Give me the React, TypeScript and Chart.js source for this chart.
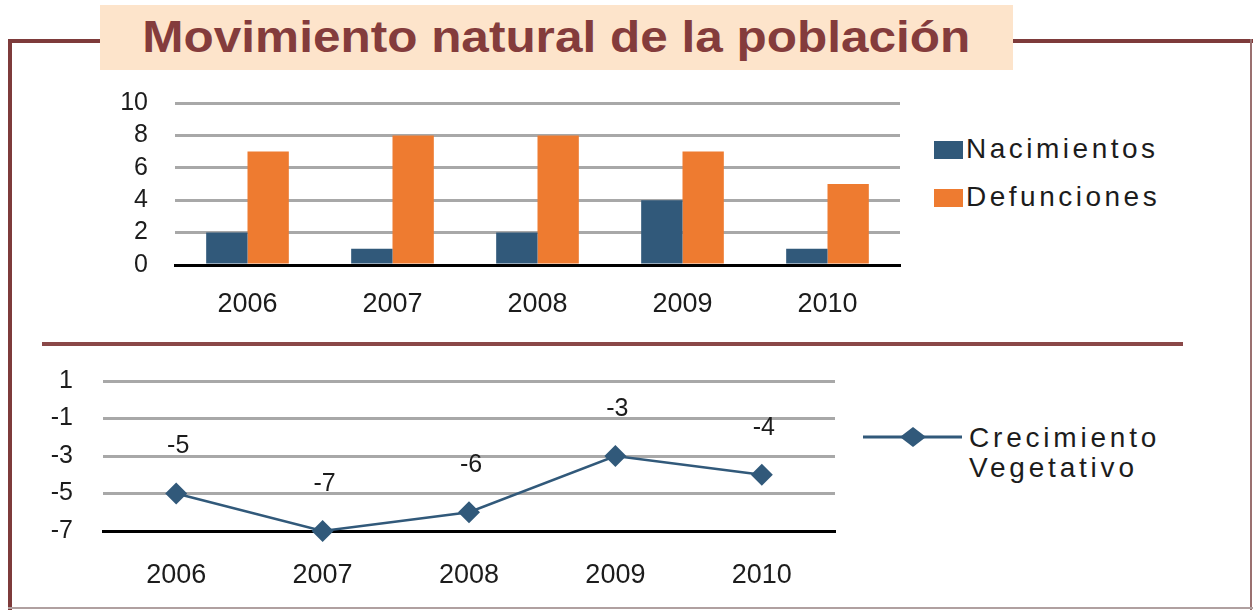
import React, { useEffect, useRef } from "react";
import { Chart, registerables } from "chart.js";

Chart.register(...registerables);

const years = ["2006", "2007", "2008", "2009", "2010"];
const nacimientos = [2, 1, 2, 4, 1];
const defunciones = [7, 8, 8, 7, 5];
const crecimiento = [-5, -7, -6, -3, -4];
const barTicks = { min: 0, max: 10, step: 2 };
const lineTicks = { min: -7, max: 1, step: 2 };

const FONT = "'Liberation Sans', Arial, sans-serif";
const BLUE = "#31597a";
const ORANGE = "#ee7b30";
const FRAME = "#7e3b3b";
const GRID = "#a8a8a8";
const TEXT = "#1c1c1c";

const pointLabels = {
  id: "pointLabels",
  afterDatasetsDraw(chart: any) {
    if (chart.config.type !== "line") return;
    const ctx = chart.ctx;
    const meta = chart.getDatasetMeta(0);
    ctx.save();
    ctx.font = `25px ${FONT}`;
    ctx.fillStyle = TEXT;
    ctx.textAlign = "center";
    ctx.textBaseline = "middle";
    meta.data.forEach((pt: any, i: number) => {
      ctx.fillText(String(chart.data.datasets[0].data[i]), pt.x + 2, pt.y - 47);
    });
    ctx.restore();
  },
};

function BarChart() {
  const ref = useRef<HTMLCanvasElement>(null);
  useEffect(() => {
    const chart = new Chart(ref.current!, {
      type: "bar",
      data: {
        labels: years,
        datasets: [
          { label: "Nacimientos", data: nacimientos, backgroundColor: BLUE },
          { label: "Defunciones", data: defunciones, backgroundColor: ORANGE },
        ],
      },
      options: {
        responsive: false,
        animation: false,
        layout: { padding: { top: 15, right: 20, left: 0, bottom: 0 } },
        plugins: { legend: { display: false }, tooltip: { enabled: false } },
        datasets: { bar: { categoryPercentage: 0.57, barPercentage: 1 } },
        scales: {
          x: {
            afterFit: (s: any) => { s.height = 57; s.paddingLeft = 0; s.paddingRight = 0; },
            grid: { display: false, drawTicks: false },
            border: { display: true, color: "#000", width: 3 },
            ticks: { autoSkip: false, maxRotation: 0, color: TEXT, font: { family: FONT, size: 27 }, padding: 23 },
          },
          y: {
            min: barTicks.min,
            max: barTicks.max,
            afterFit: (s: any) => { s.width = 75; s.paddingTop = 0; s.paddingBottom = 0; },
            grid: { color: GRID, lineWidth: 3, drawTicks: false },
            border: { display: false },
            ticks: { autoSkip: false, stepSize: barTicks.step, color: TEXT, font: { family: FONT, size: 25 }, padding: 27 },
          },
        },
      },
    });
    return () => chart.destroy();
  }, []);
  return (
    <canvas
      ref={ref}
      width={820}
      height={234}
      style={{ position: "absolute", left: 100, top: 88, width: 820, height: 234 }}
    />
  );
}

function LineChart() {
  const ref = useRef<HTMLCanvasElement>(null);
  useEffect(() => {
    const chart = new Chart(ref.current!, {
      type: "line",
      data: {
        labels: years,
        datasets: [
          {
            label: "Crecimiento Vegetativo",
            data: crecimiento,
            borderColor: BLUE,
            backgroundColor: BLUE,
            borderWidth: 2.5,
            pointStyle: "rectRot",
            pointRadius: 11,
            pointBorderWidth: 0,
            tension: 0,
            clip: false as any,
          },
        ],
      },
      options: {
        responsive: false,
        animation: false,
        layout: { padding: { top: 21, right: 5, left: 0, bottom: 0 } },
        plugins: { legend: { display: false }, tooltip: { enabled: false } },
        scales: {
          x: {
            offset: true,
            afterFit: (s: any) => { s.height = 61; s.paddingLeft = 0; s.paddingRight = 0; },
            grid: { display: false, drawTicks: false },
            border: { display: true, color: "#000", width: 3 },
            ticks: { autoSkip: false, maxRotation: 0, color: TEXT, font: { family: FONT, size: 27 }, padding: 28 },
          },
          y: {
            min: lineTicks.min,
            max: lineTicks.max,
            afterFit: (s: any) => { s.width = 83; s.paddingTop = 0; s.paddingBottom = 0; },
            grid: { color: GRID, lineWidth: 3, drawTicks: false },
            border: { display: false },
            ticks: { autoSkip: false, stepSize: lineTicks.step, color: TEXT, font: { family: FONT, size: 25 }, padding: 30 },
          },
        },
      },
      plugins: [pointLabels],
    });
    return () => chart.destroy();
  }, []);
  return (
    <canvas
      ref={ref}
      width={826}
      height={232}
      style={{ position: "absolute", left: 20, top: 360, width: 826, height: 232 }}
    />
  );
}

export default function App() {
  const legendText: React.CSSProperties = {
    position: "absolute",
    fontFamily: FONT,
    fontSize: 28,
    color: TEXT,
    letterSpacing: 3.5,
    whiteSpace: "nowrap",
    lineHeight: "30px",
  };
  return (
    <div
      style={{
        position: "fixed",
        left: 0,
        top: 0,
        width: 1253,
        height: 610,
        background: "#fff",
        overflow: "hidden",
      }}
    >
      {/* frame */}
      <div style={{ position: "absolute", left: 8, top: 39, width: 4, height: 571, background: FRAME }} />
      <div style={{ position: "absolute", left: 8, top: 39, width: 95, height: 4, background: FRAME }} />
      <div style={{ position: "absolute", left: 1010, top: 39, width: 243, height: 4, background: FRAME }} />
      <div style={{ position: "absolute", left: 1250, top: 39, width: 2, height: 571, background: "#9a7070" }} />
      <div style={{ position: "absolute", left: 8, top: 607, width: 1245, height: 2, background: "#b0a0a0" }} />
      {/* title */}
      <div
        style={{
          position: "absolute",
          left: 100,
          top: 5,
          width: 913,
          height: 65,
          background: "#fde4cb",
        }}
      />
      <div
        style={{
          position: "absolute",
          left: 100,
          top: 5,
          width: 913,
          height: 65,
          display: "flex",
          alignItems: "center",
          justifyContent: "center",
          fontFamily: FONT,
          fontWeight: "bold",
          fontSize: 45,
          color: "#843c3c",
          whiteSpace: "nowrap",
        }}
      >
        <span style={{ display: "inline-block", transform: "scaleX(1.1)", marginTop: -2 }}>
          Movimiento natural de la población
        </span>
      </div>
      {/* separator */}
      <div style={{ position: "absolute", left: 42, top: 342, width: 1141, height: 4, background: "#8a4848" }} />

      <BarChart />
      <LineChart />

      {/* bar legend */}
      <div style={{ position: "absolute", left: 934, top: 141, width: 29, height: 18, background: BLUE }} />
      <div style={{ ...legendText, left: 966, top: 134 }}>Nacimientos</div>
      <div style={{ position: "absolute", left: 934, top: 189, width: 29, height: 18, background: ORANGE }} />
      <div style={{ ...legendText, left: 966, top: 182 }}>Defunciones</div>

      {/* line legend */}
      <svg style={{ position: "absolute", left: 860, top: 424 }} width={104} height={30}>
        <line x1={3} y1={13} x2={102} y2={13} stroke={BLUE} strokeWidth={3} />
        <polygon points="53,3 66,13 53,23 40,13" fill={BLUE} />
      </svg>
      <div style={{ ...legendText, left: 969, top: 423, letterSpacing: 3.8 }}>
        Crecimiento
        <br />
        Vegetativo
      </div>
    </div>
  );
}
